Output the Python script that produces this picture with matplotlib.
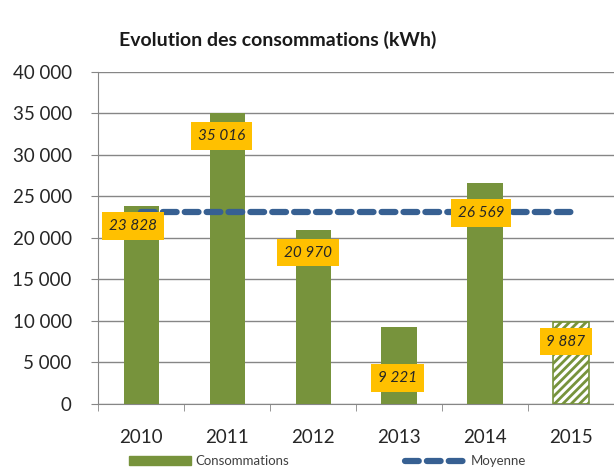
import numpy as np
import matplotlib.pyplot as plt
from matplotlib.ticker import FuncFormatter, FixedLocator

plt.rcParams['font.family'] = ['Lato', 'DejaVu Sans']
plt.rcParams['hatch.linewidth'] = 2.0

# Consumption per year (kWh)
annees = ["2010", "2011", "2012", "2013", "2014", "2015"]
consommations = [23828, 35016, 20970, 9221, 26569, 9887]
# 2015 is a partial year, drawn hatched
partiel = [False, False, False, False, False, True]
# average over the full years
moyenne = np.mean(consommations[:5])

vert = "#77933c"
jaune = "#ffc000"
bleu = "#376092"

fig = plt.figure(figsize=(6.14, 4.72), dpi=100)
ax = fig.add_axes([0.16, 0.145, 0.84, 0.703])

x = np.arange(len(annees))
for i, v in enumerate(consommations):
    if partiel[i]:
        ax.bar(x[i], v, width=0.41, color="white", edgecolor=vert,
               hatch="////", linewidth=1.2, zorder=3)
    else:
        ax.bar(x[i], v, width=0.41, color=vert, zorder=3)

ax.plot([x[0], x[-1]], [moyenne, moyenne], color=bleu, lw=4.5,
        ls=(0, (2.2, 1.3)), dash_capstyle="round", zorder=4)

# label offsets in pixels (dx, dy) from the top of each bar
decal = [(-8, -20), (-6, -23), (-5, -23), (-2, -51), (-4, -30), (-5, -20)]
for i, v in enumerate(consommations):
    txt = f"{v:,}".replace(",", " ")
    ax.annotate(txt, (x[i], v), xytext=decal[i], textcoords="offset pixels",
                ha="center", va="center", fontsize=11, style="italic",
                color="#262626", zorder=5,
                bbox=dict(boxstyle="square,pad=0.45", fc=jaune, ec="none"))

ax.set_xlim(-0.5, len(annees) - 0.5)
ax.set_ylim(0, 40000)
ax.set_yticks(range(0, 40001, 5000))
ax.yaxis.set_major_formatter(FuncFormatter(lambda v, p: f"{int(v):,}".replace(",", " ")))
ax.set_xticks(x)
ax.set_xticklabels(annees)
ax.xaxis.set_minor_locator(FixedLocator(np.arange(-0.5, len(annees), 1.0)))
ax.tick_params(axis="x", which="major", length=0, pad=18, labelsize=13.5,
               labelcolor="#262626")
ax.tick_params(axis="x", which="minor", length=5, color="#868686")
ax.tick_params(axis="y", length=5, color="#868686", labelsize=13.5, pad=14,
               labelcolor="#262626")
ax.grid(axis="y", color="#868686", lw=1, zorder=0)

for s in ["top", "right"]:
    ax.spines[s].set_visible(False)
for s in ["left", "bottom"]:
    ax.spines[s].set_color("#868686")

fig.text(0.452, 0.915, "Evolution des consommations (kWh)", ha="center",
         va="center", fontsize=14, fontweight="bold", color="#1a1a1a")

# legend
leg = ax.legend(
    handles=[plt.Rectangle((0, 0), 1, 1, color=vert),
             plt.Line2D([], [], color=bleu, lw=4.5, ls=(0, (2.2, 1.3)),
                        dash_capstyle="round")],
    labels=["Consommations", "Moyenne"], ncol=2, frameon=False,
    loc="upper center", bbox_to_anchor=(0.445, -0.12), fontsize=9.5,
    handlelength=4.7, handleheight=0.6, columnspacing=8.8, handletextpad=0.3,
    labelcolor="#404040")

fig.savefig("out.png", dpi=100)
